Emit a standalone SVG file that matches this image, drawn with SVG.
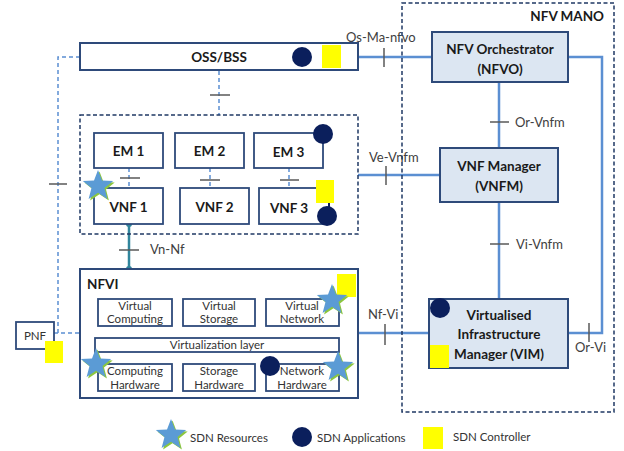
<svg xmlns="http://www.w3.org/2000/svg" width="624" height="451" viewBox="0 0 624 451">
<defs>
<style>
text{font-family:Lato,"Open Sans","Liberation Sans",sans-serif;fill:#262626}
.b{font-weight:bold;font-size:13.5px;fill:#1a1a1a}
.lbl{font-size:13px;fill:#404040}
.sm{font-size:11.5px;fill:#333}
.box{fill:#fff;stroke:#2e4a7a;stroke-width:2}
.mbox{fill:#dce6f2;stroke:#2e4a7a;stroke-width:2}
.sbox{fill:#fff;stroke:#2e4a7a;stroke-width:1.8}
.dash{fill:none;stroke:#1f3864;stroke-width:1.5;stroke-dasharray:4,2.5}
.con{fill:none;stroke:#5b8fd2;stroke-width:2.5}
.dcon{fill:none;stroke:#5b8fd2;stroke-width:1.5;stroke-dasharray:4,3}
.tick{stroke:#595959;stroke-width:1.5}
.app{fill:#0b1f5c}
.ctl{fill:#ffff00}
.teal{stroke:#31859c;stroke-width:2.5;fill:none}
</style>
<path id="star" d="M0,-16 L4,-5.5 L15.2,-4.9 L6.5,2.1 L9.4,12.9 L0,6.8 L-9.4,12.9 L-6.5,2.1 L-15.2,-4.9 L-4,-5.5 Z"/>
<g id="sdnstar"><use href="#star" fill="#8cc63f" transform="translate(1.5,1.5)"/><use href="#star" fill="#5b9bd5"/></g>
</defs>

<g id="connectors">
<!-- OSS to NFVO -->
<line class="con" x1="358" y1="57" x2="432" y2="57"/>
<line class="tick" x1="384" y1="48" x2="384" y2="67"/>
<text class="lbl" x="346" y="42">Os-Ma-nfvo</text>
<!-- NFVO right to VIM -->
<polyline class="con" points="568,57 602,57 602,333 568,333"/>
<line class="tick" x1="589" y1="323" x2="589" y2="342"/>
<text class="lbl" x="575" y="352">Or-Vi</text>
<!-- NFVO to VNFM -->
<line class="con" x1="499" y1="82" x2="499" y2="148"/>
<line class="tick" x1="490" y1="122" x2="509" y2="122"/>
<text class="lbl" x="515" y="127">Or-Vnfm</text>
<!-- VNFM to VIM -->
<line class="con" x1="499" y1="202" x2="499" y2="299"/>
<line class="tick" x1="490" y1="244" x2="509" y2="244"/>
<text class="lbl" x="516" y="249">Vi-Vnfm</text>
<!-- VNFM to VNF box -->
<line class="con" x1="358" y1="175" x2="440" y2="175"/>
<line class="tick" x1="386" y1="166" x2="386" y2="185"/>
<text class="lbl" x="369" y="162">Ve-Vnfm</text>
<!-- NFVI to VIM -->
<line class="con" x1="358" y1="333" x2="429" y2="333"/>
<line class="tick" x1="385" y1="324" x2="385" y2="345"/>
<text class="lbl" x="368" y="319">Nf-Vi</text>
<!-- OSS to VNF box -->
<line class="dcon" x1="219" y1="71" x2="219" y2="115"/>
<line class="tick" x1="210" y1="95" x2="230" y2="95"/>
<!-- OSS left to PNF / NFVI -->
<polyline class="dcon" points="80,57 58,57 58,333"/>
<line class="dcon" x1="54" y1="333" x2="80" y2="333"/>
<line class="tick" x1="49" y1="184" x2="67" y2="184"/>
<!-- EM to VNF -->
<line class="dcon" x1="129" y1="168" x2="129" y2="188"/>
<line class="tick" x1="120" y1="178" x2="140" y2="178"/>
<line class="dcon" x1="210" y1="168" x2="210" y2="188"/>
<line class="tick" x1="200" y1="180" x2="220" y2="180"/>
<line class="dcon" x1="289" y1="168" x2="289" y2="188"/>
<line class="tick" x1="280" y1="180" x2="299" y2="180"/>
<!-- VNF1 to NFVI -->
<line class="teal" x1="129" y1="224" x2="129" y2="269"/>
<circle cx="129" cy="224" r="3" fill="#31859c"/>
<circle cx="129" cy="269" r="3" fill="#31859c"/>
<line class="tick" x1="119" y1="250" x2="139" y2="250"/>
<text class="lbl" x="150" y="254">Vn-Nf</text>
</g>

<g id="nfv-mano">
<rect class="dash" x="402" y="3" width="212" height="409"/>
<text class="b" x="604" y="21" text-anchor="end">NFV MANO</text>
</g>

<g id="oss-bss">
<rect class="box" x="80" y="43" width="278" height="27"/>
<text class="b" x="219" y="62" text-anchor="middle">OSS/BSS</text>
<circle class="app" cx="302" cy="57" r="10"/>
<rect class="ctl" x="322" y="45" width="19" height="23"/>
</g>

<g id="nfvo">
<rect class="mbox" x="432" y="32" width="136" height="50"/>
<text class="b" x="500" y="54" text-anchor="middle">NFV Orchestrator</text>
<text class="b" x="500" y="74" text-anchor="middle">(NFVO)</text>
</g>

<g id="vnfm">
<rect class="mbox" x="440" y="148" width="118" height="54"/>
<text class="b" x="499" y="171" text-anchor="middle">VNF Manager</text>
<text class="b" x="499" y="191" text-anchor="middle">(VNFM)</text>
</g>

<g id="vim">
<rect class="mbox" x="429" y="299" width="139" height="69"/>
<text class="b" x="499" y="320" text-anchor="middle">Virtualised</text>
<text class="b" x="499" y="339" text-anchor="middle">Infrastructure</text>
<text class="b" x="499" y="359" text-anchor="middle">Manager (VIM)</text>
<circle class="app" cx="440" cy="308" r="10"/>
<rect class="ctl" x="430" y="345" width="19" height="23"/>
</g>

<g id="vnf-group">
<rect class="dash" x="80" y="115" width="278" height="119"/>
</g>

<g id="em1"><rect class="sbox" x="94" y="133" width="69" height="35"/><text class="b" x="128.5" y="156" text-anchor="middle">EM 1</text></g>
<g id="em2"><rect class="sbox" x="175" y="133" width="69" height="35"/><text class="b" x="209.5" y="156" text-anchor="middle">EM 2</text></g>
<g id="em3"><rect class="sbox" x="254" y="133" width="69" height="35"/><text class="b" x="288.5" y="157" text-anchor="middle">EM 3</text>
<circle class="app" cx="323" cy="134" r="10"/></g>
<g id="vnf1"><rect class="sbox" x="94" y="188" width="69" height="36"/><text class="b" x="128.5" y="212" text-anchor="middle">VNF 1</text>
<use href="#sdnstar" transform="translate(98,186)"/></g>
<g id="vnf2"><rect class="sbox" x="180" y="188" width="69" height="36"/><text class="b" x="214.5" y="212" text-anchor="middle">VNF 2</text></g>
<g id="vnf3"><rect class="sbox" x="259" y="188" width="70" height="36"/><text class="b" x="289" y="213" text-anchor="middle">VNF 3</text>
<line x1="329" y1="200" x2="329" y2="215" stroke="#0b1f5c" stroke-width="2"/>
<rect class="ctl" x="316" y="180" width="18" height="23"/>
<circle class="app" cx="327" cy="216" r="10"/></g>

<g id="nfvi">
<rect class="box" x="80" y="269" width="278" height="129"/>
<text class="b" x="87" y="289">NFVI</text>
<g id="virtual-computing"><rect class="sbox" x="98" y="299" width="74" height="27"/><text class="sm" x="135" y="310" text-anchor="middle">Virtual</text><text class="sm" x="135" y="323" text-anchor="middle">Computing</text></g>
<g id="virtual-storage"><rect class="sbox" x="183" y="299" width="72" height="27"/><text class="sm" x="219" y="310" text-anchor="middle">Virtual</text><text class="sm" x="219" y="323" text-anchor="middle">Storage</text></g>
<g id="virtual-network"><rect class="sbox" x="266" y="299" width="73" height="27"/><text class="sm" x="302" y="310" text-anchor="middle">Virtual</text><text class="sm" x="302" y="323" text-anchor="middle">Network</text></g>
<g id="virtualization-layer"><rect class="sbox" x="95" y="338" width="244" height="14"/><text class="sm" x="217" y="349" text-anchor="middle">Virtualization layer</text></g>
<g id="computing-hardware"><rect class="sbox" x="98" y="364" width="74" height="27"/><text class="sm" x="135" y="375" text-anchor="middle">Computing</text><text class="sm" x="135" y="389" text-anchor="middle">Hardware</text></g>
<g id="storage-hardware"><rect class="sbox" x="183" y="364" width="72" height="27"/><text class="sm" x="219" y="375" text-anchor="middle">Storage</text><text class="sm" x="219" y="389" text-anchor="middle">Hardware</text></g>
<g id="network-hardware"><rect class="sbox" x="266" y="364" width="73" height="27"/><text class="sm" x="302" y="375" text-anchor="middle">Network</text><text class="sm" x="302" y="389" text-anchor="middle">Hardware</text></g>
<rect class="ctl" x="337" y="274" width="19" height="23"/>
<use href="#sdnstar" transform="translate(332,300)"/>
<use href="#sdnstar" transform="translate(96,364)"/>
<circle class="app" cx="270" cy="366" r="10"/>
<use href="#sdnstar" transform="translate(338,367)"/>
</g>

<g id="pnf">
<rect class="sbox" x="16" y="322" width="38" height="27"/>
<text class="sm" x="35" y="340" text-anchor="middle">PNF</text>
<rect class="ctl" x="45" y="341" width="18" height="22"/>
</g>

<g id="legend">
<use href="#sdnstar" transform="translate(171,435)"/>
<text class="sm" x="190" y="442">SDN Resources</text>
<circle class="app" cx="302" cy="437" r="10"/>
<text class="sm" x="317" y="442">SDN Applications</text>
<rect class="ctl" x="423" y="427" width="20" height="22"/>
<text class="sm" x="453" y="441">SDN Controller</text>
</g>
</svg>
